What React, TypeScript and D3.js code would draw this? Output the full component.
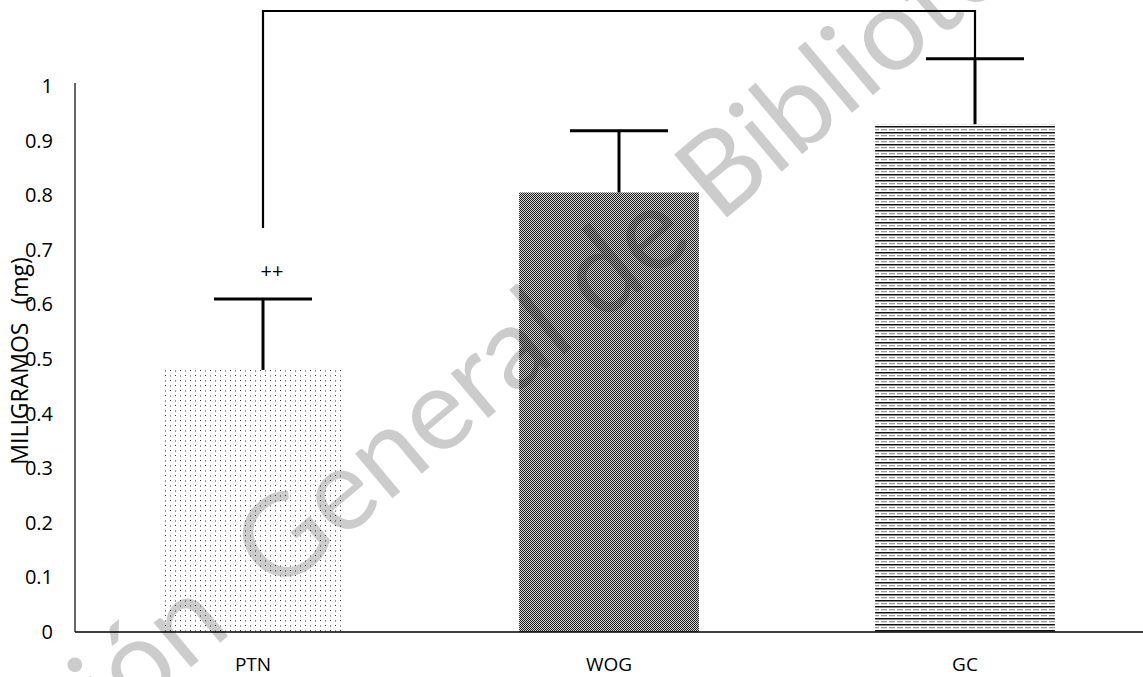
import { useEffect } from "react";
import * as d3 from "d3";

// data
const groups = ["PTN", "WOG", "GC"];
const means = [0.48, 0.805, 0.93];
const errors = [0.13, 0.113, 0.12];
const patternIds = ["dots", "checker", "hlines"];
const yTicks = [0, 0.1, 0.2, 0.3, 0.4, 0.5, 0.6, 0.7, 0.8, 0.9, 1];
const sigMarks = ["++", "", ""];

const W = 1143;
const H = 677;
const font = "'Open Sans', sans-serif";

export default function App() {
  useEffect(() => {
    document.body.style.margin = "0";
  }, []);

  const x = d3.scaleBand<string>().domain(groups).range([75, W]).paddingInner(0.495).paddingOuter(0.2475);
  const y = d3.scaleLinear().domain([0, 1]).range([632, 86]);
  const errOffset = 10; // error bars sit a bit right of centre, as in the source
  const capHalf = 49;

  const cx = (g: string) => (x(g) ?? 0) + x.bandwidth() / 2;
  const ex = (i: number) => cx(groups[i]) + errOffset;

  // bracket between PTN and GC
  const bracketTop = 11;
  const leftFoot = y(means[0] + errors[0]) - 71;
  const rightFoot = y(means[2] + errors[2]);

  return (
    <svg width={W} height={H} style={{ display: "block", background: "#fff" }}>
      <defs>
        <pattern id="dots" width={10} height={10} patternUnits="userSpaceOnUse">
          <rect width={10} height={10} fill="#fff" />
          <rect x={0} y={0} width={1} height={1} fill="#333" />
          <rect x={5} y={5} width={1} height={1} fill="#333" />
          <rect x={5} y={0} width={1} height={2} fill="#999" />
          <rect x={0} y={5} width={1} height={2} fill="#999" />
        </pattern>
        <pattern id="checker" width={2} height={2} patternUnits="userSpaceOnUse">
          <rect width={2} height={2} fill="#d0d0d0" />
          <rect x={0} y={0} width={1} height={1} fill="#222" />
          <rect x={1} y={1} width={1} height={1} fill="#222" />
        </pattern>
        <pattern id="hlines" width={8} height={6} patternUnits="userSpaceOnUse">
          <rect width={8} height={6} fill="#fff" />
          <rect x={0} y={0} width={8} height={1.5} fill="#111" />
          <rect x={1} y={3} width={6} height={1.3} fill="#999" />
        </pattern>
      </defs>

      {/* bars */}
      {groups.map((g, i) => (
        <rect
          key={g}
          x={x(g)}
          y={y(means[i])}
          width={x.bandwidth()}
          height={y(0) - y(means[i])}
          fill={`url(#${patternIds[i]})`}
        />
      ))}

      {/* axes */}
      <line x1={75} x2={75} y1={83} y2={632} stroke="#000" strokeWidth={1.2} />
      <line x1={75} x2={W} y1={632} y2={632} stroke="#000" strokeWidth={1.6} />

      {yTicks.map((t) => (
        <text key={t} x={53} y={y(t) + 7} textAnchor="end" fontFamily={font} fontSize={20}>
          {d3.format("~g")(t)}
        </text>
      ))}
      {groups.map((g) => (
        <text key={g} x={cx(g)} y={671} textAnchor="middle" fontFamily={font} fontSize={19}>
          {g}
        </text>
      ))}
      <text
        transform={`translate(28, 361) rotate(-90)`}
        textAnchor="middle"
        fontFamily={font}
        fontSize={23}
        style={{ whiteSpace: "pre" }}
      >
        {"MILIGRAMOS   (mg)"}
      </text>

      {/* error bars */}
      {groups.map((g, i) => (
        <g key={g} stroke="#000" strokeWidth={3}>
          <line x1={ex(i)} x2={ex(i)} y1={y(means[i])} y2={y(means[i] + errors[i])} />
          <line x1={ex(i) - capHalf} x2={ex(i) + capHalf} y1={y(means[i] + errors[i])} y2={y(means[i] + errors[i])} />
        </g>
      ))}
      {sigMarks.map((m, i) =>
        m ? (
          <text key={i} x={ex(i) + 9} y={y(means[i] + errors[i]) - 21} textAnchor="middle" fontFamily={font} fontSize={20}>
            {m}
          </text>
        ) : null
      )}

      {/* significance bracket */}
      <path
        d={`M${ex(0)},${leftFoot}V${bracketTop}H${ex(2)}V${rightFoot}`}
        fill="none"
        stroke="#000"
        strokeWidth={2.2}
      />

      {/* watermark */}
      <g transform="translate(276, 596) rotate(-40)" fill="#000" fillOpacity={0.2} fontFamily="Lato, sans-serif" fontSize={115}>
        <text x={-55} textAnchor="end">Dirección</text>
        <text x={0}>General de Bibliotecas</text>
      </g>
    </svg>
  );
}
